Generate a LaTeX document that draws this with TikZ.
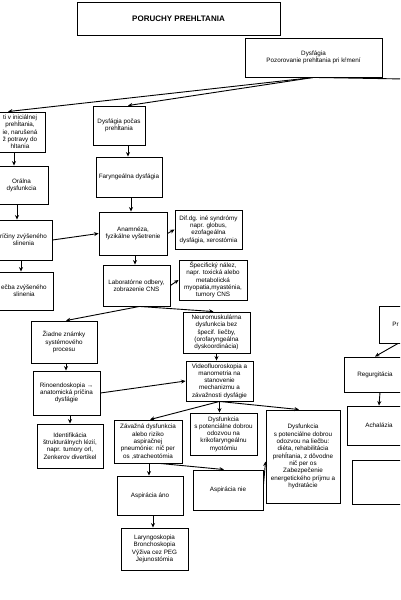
\documentclass[tikz,border=0pt]{standalone}
\usepackage{fontspec}
\setmainfont{Liberation Sans}
\usetikzlibrary{arrows.meta,calc}
\begin{document}
\begin{tikzpicture}[x=1pt,y=-1pt,
 box/.style={draw, line width=0.9pt, fill=white, align=center, inner sep=0.5pt, font=\fontsize{6.3}{7.3}\selectfont},
 arr/.style={-{Stealth[length=4.5pt,width=4pt]}, line width=0.9pt},
 ln/.style={line width=0.9pt}]
\useasboundingbox (0,0) rectangle (400,600);
\clip (0,0) rectangle (400,600);
\fill[white] (0,0) rectangle (400,600);

% top
\node[box, minimum width=203pt, minimum height=33pt, font=\bfseries\fontsize{8}{10}\selectfont] (title) at (178.5,18.5) {PORUCHY PREHLTANIA};
\node[box, minimum width=137pt, minimum height=39pt] (dys) at (313.5,57.5) {Dysfágia\\Pozorovanie prehĺtania pri kŕmení};
\coordinate (rightend) at (404,79);

% left column (cut)
\node[box, minimum width=50pt, minimum height=40pt] (left1) at (20,132) {ti v iniciálnej\\prehĺtania,\\ie, narušená\\ž potravy do\\hltania};
\node[box, minimum width=53pt, minimum height=38pt] (oral) at (21.5,185) {Orálna\\dysfunkcia};
\node[box, minimum width=57pt, minimum height=40pt] (pric) at (23.5,240) {ríčiny zvýšeného\\slinenia};
\node[box, minimum width=58pt, minimum height=38pt] (liec) at (24,291) {ečba zvýšeného\\slinenia};

% middle column
\node[box, minimum width=52pt, minimum height=39pt] (dpp) at (119,125.5) {Dysfágia počas\\prehĺtania};
\node[box, minimum width=66pt, minimum height=40pt] (fary) at (129,177) {Faryngeálna dysfágia};
\node[box, minimum width=68pt, minimum height=43pt] (anam) at (133,233.5) {Anamnéza,\\fyzikálne vyšetrenie};
\node[box, minimum width=67pt, minimum height=39pt] (difdg) at (208.5,229.5) {Dif.dg. iné syndrómy\\napr. globus,\\ezofageálna\\dysfágia, xerostómia};
\node[box, minimum width=67pt, minimum height=41pt] (lab) at (136.5,285.5) {Laboratórne odbery,\\zobrazenie CNS};
\node[box, minimum width=68pt, minimum height=40pt] (spec) at (213,280) {Špecifický nález,\\napr. toxická alebo\\metabolická\\myopatia,myasténia,\\tumory CNS};

\node[box, minimum width=66pt, minimum height=42pt] (ziad) at (64,342) {Žiadne známky\\systémového\\procesu};
\node[box, minimum width=67pt, minimum height=44pt] (rino) at (66.5,393) {Rinoendoskopia →\\anatomická príčina\\dysfágie};
\node[box, minimum width=66pt, minimum height=44pt] (ident) at (70,446) {Identifikácia\\štrukturálnych lézií,\\napr. tumory orl,\\Zenkerov divertikel};

\node[box, minimum width=67pt, minimum height=41pt] (neuro) at (216.5,332.5) {Neuromuskulárna\\dysfunkcia bez\\špecif. liečby,\\(orofaryngeálna\\dyskoordinácia)};
\node[box, minimum width=67pt, minimum height=40pt] (video) at (219.5,381) {Videofluoroskopia a\\manometria na\\stanovenie\\mechanizmu a\\závažnosti dysfágie};

\node[box, minimum width=68pt, minimum height=43pt] (zav) at (148,441.5) {Závažná dysfunkcia\\alebo riziko\\aspiračnej\\pneumónie: nič per\\os ,stracheotómia};
\node[box, minimum width=67pt, minimum height=42pt] (dysk) at (223.5,434) {Dysfunkcia\\s potenciálne dobrou\\odozvou na\\krikofaryngeálnu\\myotómiu};
\node[box, minimum width=74pt, minimum height=93pt] (dysl) at (303,456.5) {Dysfunkcia\\s potenciálne dobrou\\odozvou na liečbu:\\diéta, rehabilitácia\\prehĺtania, z dôvodne\\nič per os\\Zabezpečenie\\energetického príjmu a\\hydratácie};
\node[box, minimum width=66pt, minimum height=39pt] (aano) at (150,495.5) {Aspirácia áno};
\node[box, minimum width=70pt, minimum height=40pt] (anie) at (228,490) {Aspirácia nie};
\node[box, minimum width=67pt, minimum height=42pt] (laryn) at (154.5,549) {Laryngoskopia\\Bronchoskopia\\Výživa cez PEG\\Jejunostómia};

% right column (cut)
\node[box, minimum width=70pt, minimum height=37pt, anchor=west, text width=50pt, align=left, inner xsep=13pt] (pbox) at (379,324.5) {Pr};
\node[box, minimum width=62pt, minimum height=35pt] (reg) at (375,374.5) {Regurgitácia};
\node[box, minimum width=64pt, minimum height=39pt] (acha) at (379,425.5) {Achalázia};
\node[box, minimum width=68pt, minimum height=44pt] (empty) at (386,482) {};

% connectors
\draw[arr] (dys.south) -- ($(left1.north)+(-12,0)$);
\draw[arr] (dys.south) -- ($(dpp.north)+(9,0)$);
\draw[ln] (dys.south) -- (rightend);

\draw[arr] ($(left1.south)+(-6,0)$) -- ($(oral.north)+(-7.5,0)$);
\draw[arr] ($(oral.south)+(-4.5,0)$) -- ($(pric.north)+(-6.5,0)$);
\draw[arr] ($(pric.south)+(-2.5,0)$) -- ($(liec.north)+(-3,0)$);
\draw[arr] (pric.east) -- (anam.west);

\draw[arr] ($(dpp.south)+(9,0)$) -- ($(fary.north)+(-1,0)$);
\draw[arr] ($(fary.south)+(2,0)$) -- ($(anam.north)+(-2,0)$);
\draw[arr] (anam.east) -- (difdg.west);
\draw[arr] ($(anam.south)+(2,0)$) -- ($(lab.north)+(-1.5,0)$);
\draw[arr] (lab.east) -- (spec.west);
\draw[arr] ($(lab.south)+(3,0)$) -- ($(ziad.north)+(2,0)$);
\draw[arr] ($(lab.south)+(3,0)$) -- ($(neuro.north)+(-3,0)$);

\draw[arr] ($(ziad.south)+(2,0)$) -- ($(rino.north)+(-0.5,0)$);
\draw[arr] ($(rino.south)+(3.5,0)$) -- (ident.north);
\draw[arr] (rino.east) -- (video.west);
\draw[arr] (neuro.south) -- (neuro.south |- video.north);

\draw[arr] (video.south) -- ($(zav.north)+(2,0)$);
\draw[arr] (video.south) -- (video.south |- dysk.north);
\draw[arr] (video.south) -- ($(dysl.north)+(-4,0)$);

\draw[arr] ($(zav.south)+(1,0)$) -- ($(aano.north)+(-1,0)$);
\draw[arr] ($(zav.south)+(12,0)$) -- ($(anie.north)+(-4,0)$);
\draw[arr] ($(anie.east)+(0,-5)$) -- ($(dysl.west)+(0,5)$);
\draw[arr] ($(aano.south)+(3,0)$) -- ($(laryn.north)+(-1.5,0)$);

\draw[arr] ($(pbox.south west)+(19,0)$) -- (reg.north);
\draw[arr] ($(reg.south)+(5,0)$) -- (acha.north);
\end{tikzpicture}
\end{document}
